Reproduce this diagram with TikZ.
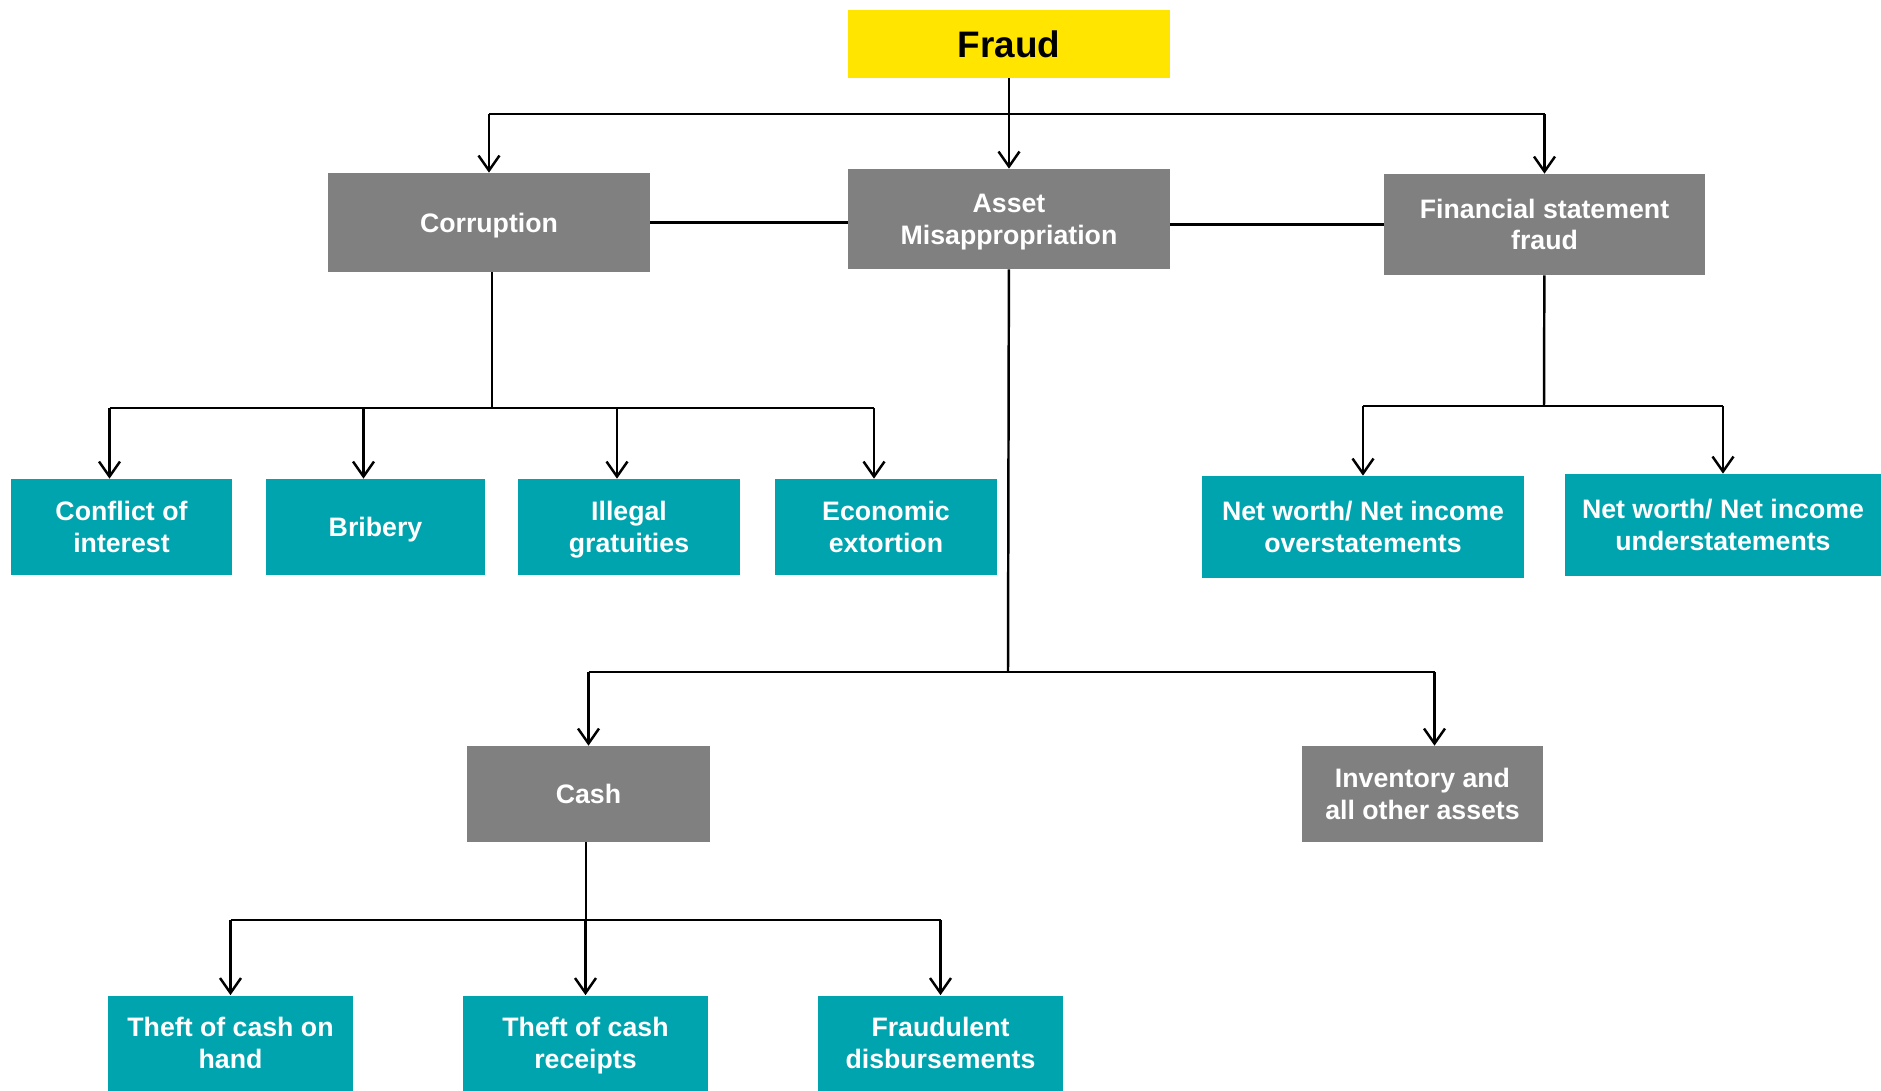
\documentclass[tikz,border=0pt]{standalone}
\usepackage{fontspec}
\setmainfont{Liberation Sans}
\usetikzlibrary{arrows.meta}
\definecolor{fraudyellow}{HTML}{FFE500}
\definecolor{boxgray}{HTML}{808080}
\definecolor{boxteal}{HTML}{00A4AE}
\tikzset{%
  every box/.style={
    rectangle,
    inner sep=0pt,
    align=center,
    text=white,
    text depth=0pt,
    font=\bfseries\fontsize{15.2}{18}\selectfont
  },
  main box/.style={every box, fill=boxgray},
  leaf box/.style={every box, fill=boxteal},
  top box/.style={
    every box,
    fill=fraudyellow,
    text=black,
    font=\bfseries\fontsize{21}{24}\selectfont
  },
  link/.style={line width=1.4pt},
}
\begin{document}
\begin{tikzpicture}[> = {Straight Barb[length=0.3cm,width=0.42cm]}, x=0.02cm, y=-0.02cm]
\useasboundingbox (0,0) rectangle (1881,1090);

% top level
\node[top box, minimum width=6.44cm, minimum height=1.36cm] (fraud) at (1009,44) {Fraud};
\node[main box, minimum width=6.44cm, minimum height=1.98cm] (corruption) at (489,222.5) {Corruption};
\node[main box, minimum width=6.44cm, minimum height=2cm] (asset) at (1009,219) {Asset\\Misappropriation};
\node[main box, minimum width=6.42cm, minimum height=2.02cm] (fsf) at (1544.5,224.5) {Financial statement\\fraud};

% corruption leaves
\foreach \x/\name/\w/\txt in {121.5/conflict/4.42/{Conflict of\\interest},
                              375.5/bribery/4.38/{Bribery},
                              629/illegal/4.44/{Illegal\\gratuities},
                              886/economic/4.44/{Economic\\extortion}}
    \node[leaf box, minimum width=\w cm, minimum height=1.92cm] (\name) at (\x,527) {\txt};

% financial statement leaves
\node[leaf box, minimum width=6.44cm, minimum height=2.04cm] (over) at (1363,527) {Net worth/ Net income\\overstatements};
\node[leaf box, minimum width=6.32cm, minimum height=2.04cm] (under) at (1723,525) {Net worth/ Net income\\understatements};

% asset branches
\node[main box, minimum width=4.86cm, minimum height=1.92cm] (cash) at (588.5,794) {Cash};
\node[main box, minimum width=4.82cm, minimum height=1.92cm] (inventory) at (1422.5,794) {Inventory and\\all other assets};

% cash leaves
\foreach \x/\name/\txt in {230.5/hand/{Theft of cash on\\hand},
                           585.5/receipts/{Theft of cash\\receipts},
                           940.5/disb/{Fraudulent\\disbursements}}
    \node[leaf box, minimum width=4.9cm, minimum height=1.9cm] (\name) at (\x,1043) {\txt};

% bus points
\coordinate (fraud_bus) at (1009,114);
\coordinate (cor_bus) at (492,408);
\coordinate (fsf_bus) at (1544,406);
\coordinate (asset_bus) at (1008,672);
\coordinate (cash_bus) at (586,920);

% fraud level
\draw[link,->] (fraud) -- (asset);
\draw[link] (fraud_bus -| corruption) -- (fraud_bus -| fsf);
\draw[link,->] (fraud_bus -| corruption) -- (corruption);
\draw[link,->] (fraud_bus -| fsf) -- (fsf);
\draw[link] (corruption.east) -- (corruption.east -| asset.west);
\draw[link] (fsf.west -| asset.east) -- (fsf.west);

% corruption
\foreach \leaf in {conflict,bribery,illegal,economic}
    \coordinate (\leaf_top) at ([xshift=-0.24cm]\leaf.north);
\draw[link] (cor_bus |- corruption.south) -- (cor_bus);
\draw[link] (conflict_top |- cor_bus) -- (economic_top |- cor_bus);
\foreach \leaf in {conflict,bribery,illegal,economic}
    \draw[link,->] (\leaf_top |- cor_bus) -- (\leaf_top);

% financial statement fraud
\draw[link] (fsf) -- (fsf_bus);
\draw[link] (over |- fsf_bus) -- (under |- fsf_bus);
\draw[link,->] (over |- fsf_bus) -- (over);
\draw[link,->] (under |- fsf_bus) -- (under);

% asset misappropriation
\coordinate (inventory_top) at ([xshift=0.24cm]inventory.north);
\draw[link] (asset) -- (asset_bus);
\draw[link] (cash |- asset_bus) -- (inventory_top |- asset_bus);
\draw[link,->] (cash |- asset_bus) -- (cash);
\draw[link,->] (inventory_top |- asset_bus) -- (inventory_top);

% cash
\draw[link] (cash_bus |- cash.south) -- (cash_bus);
\draw[link] (hand |- cash_bus) -- (disb |- cash_bus);
\foreach \leaf in {hand,receipts,disb}
    \draw[link,->] (\leaf |- cash_bus) -- (\leaf);
\end{tikzpicture}
\end{document}
